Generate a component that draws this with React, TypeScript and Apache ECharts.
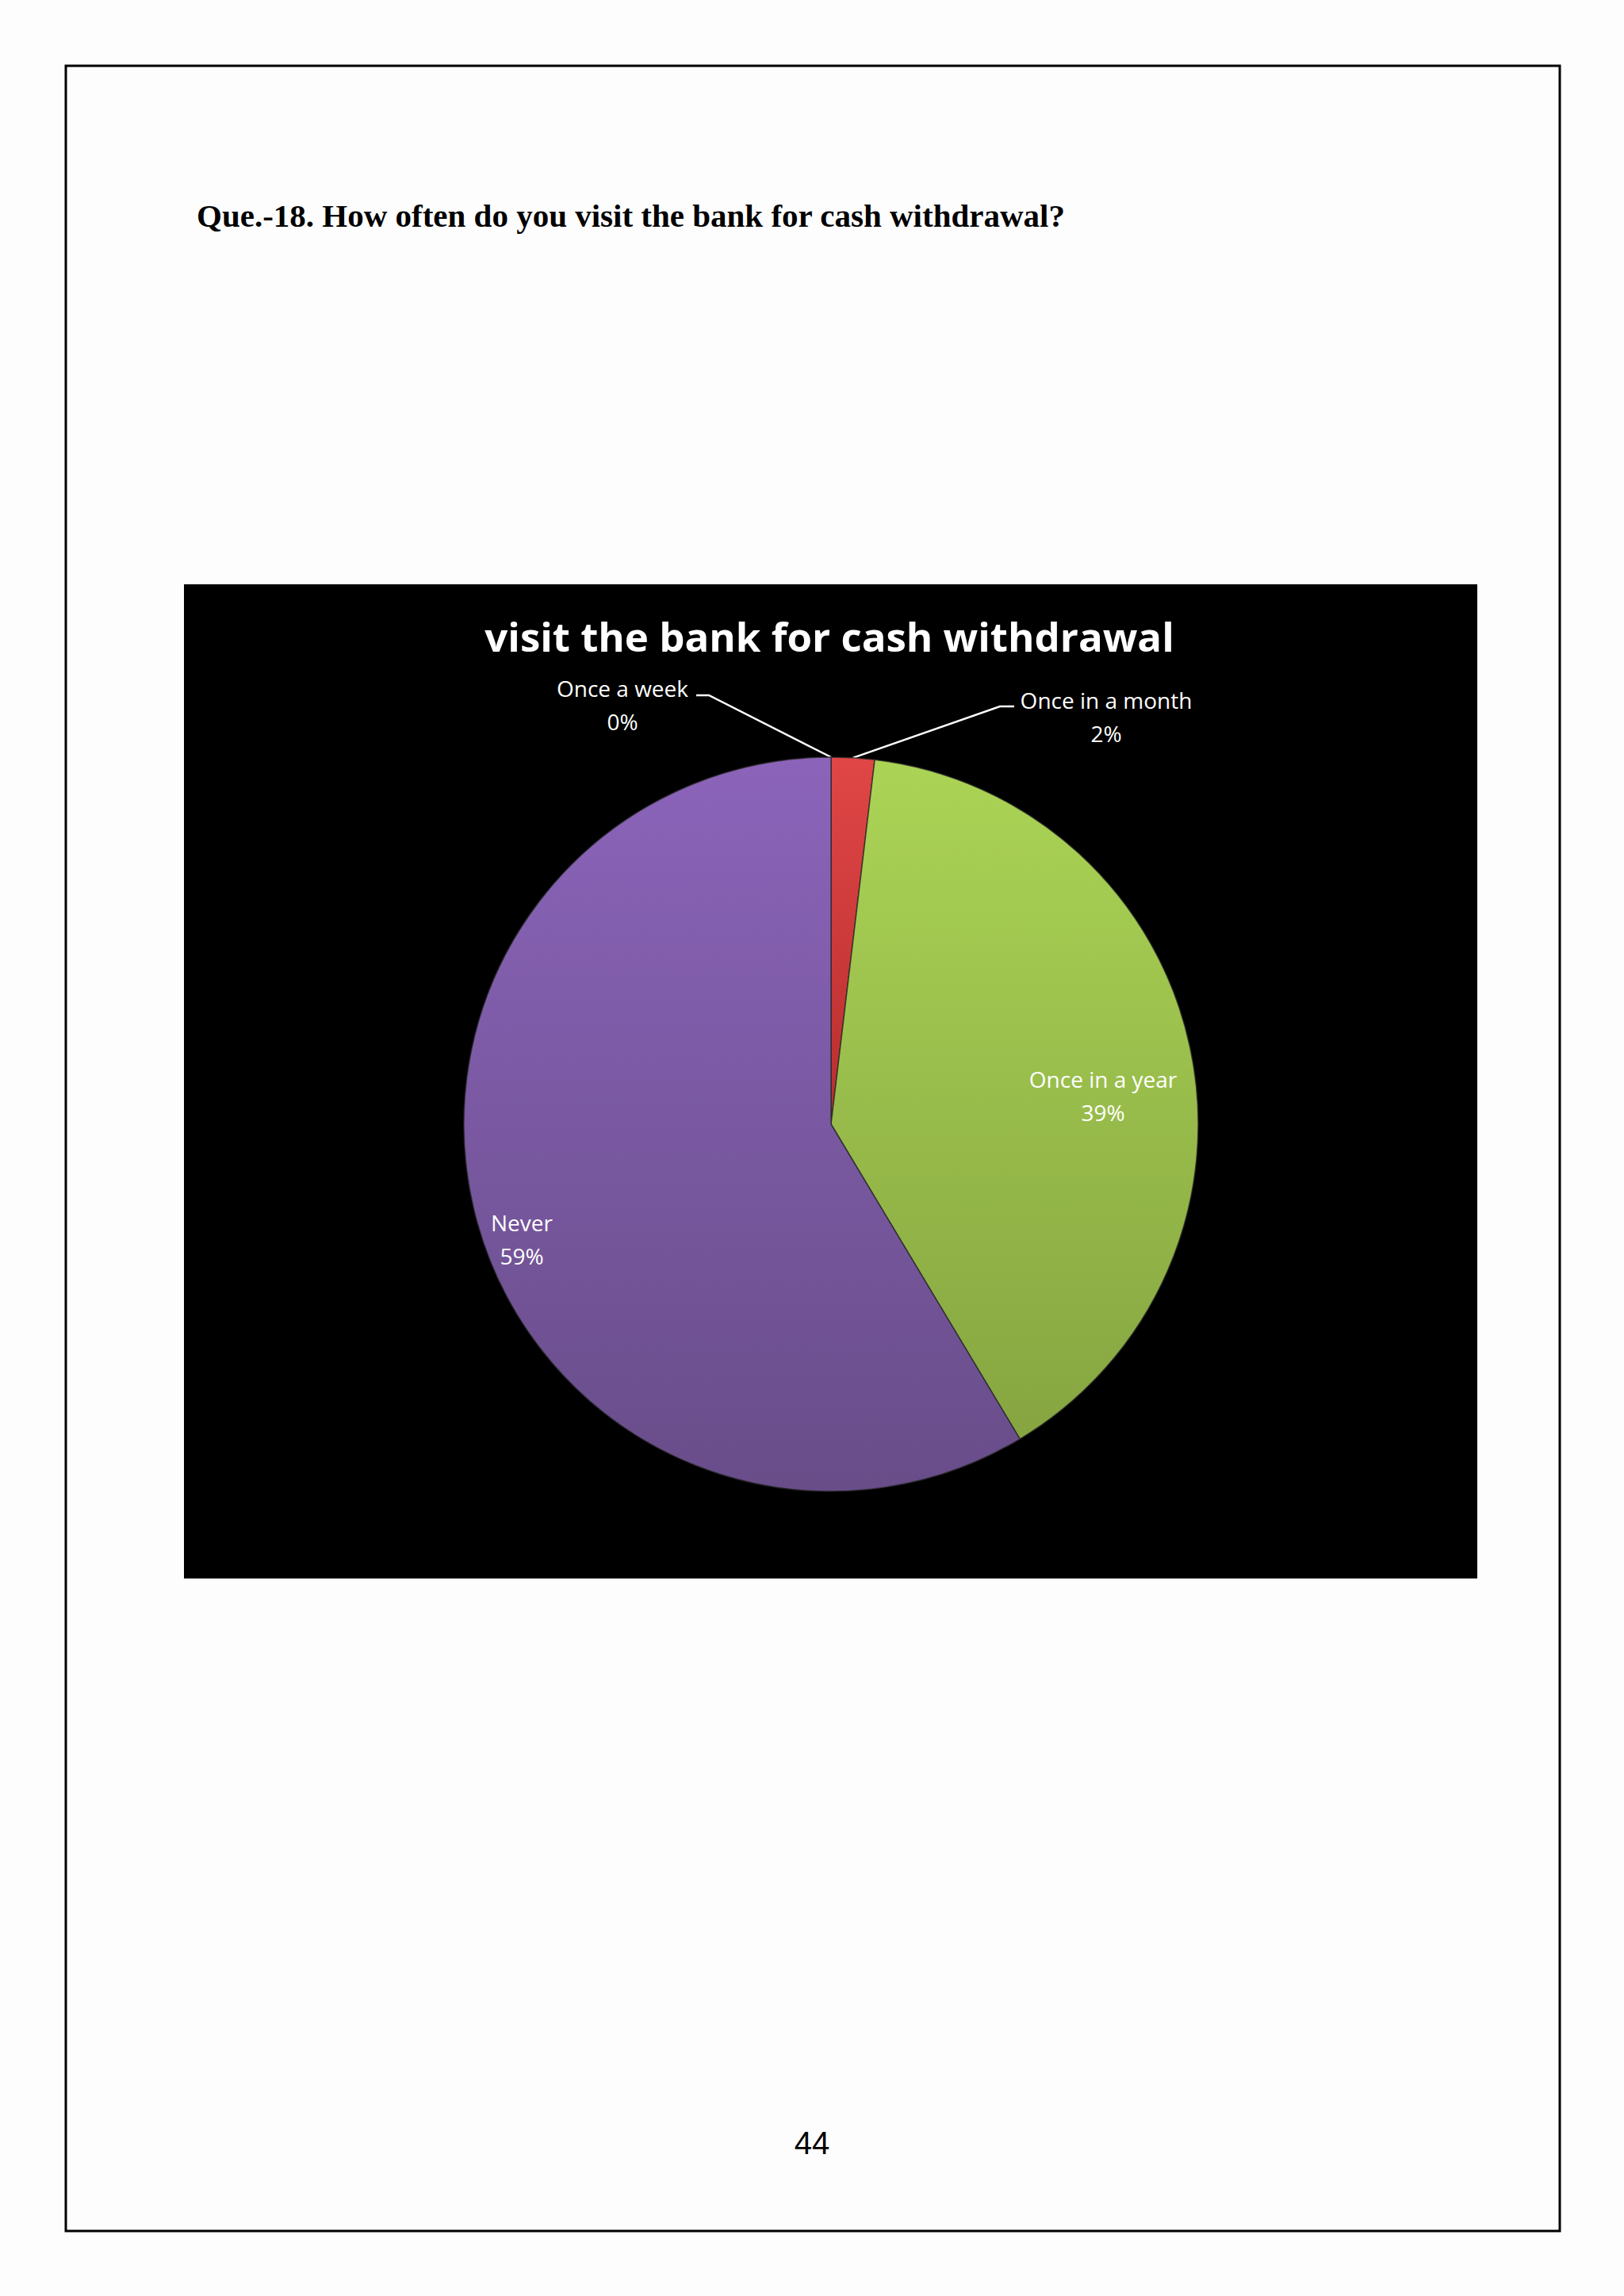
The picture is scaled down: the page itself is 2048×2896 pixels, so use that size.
import React, { useEffect, useRef } from 'react'
import * as echarts from 'echarts'

// answers to Que.-18 (share of respondents, %)
const categories = ['Once a week', 'Once in a month', 'Once in a year', 'Never']
const shares = [0, 1.9, 39.5, 58.6]

const questionText = 'Que.-18. How often do you visit the bank for cash withdrawal?'
const chartTitle = 'visit the bank for cash withdrawal'
const pageNumber = '44'

// colours per slice: [top, bottom]
const sliceColors = [
    ['#8c66bb', '#6b4f8d'],
    ['#e04646', '#b82e2e'],
    ['#abd455', '#86a541'],
    ['#8b64ba', '#684d89'],
]

// where each label sits on the page, and the leader line bends (if any)
const labelSpots: { x: number; y: number; line?: number[][] }[] = [
    { x: 785, y: 889, line: [[894, 877], [878, 877]] },
    { x: 1395, y: 904, line: [[1261, 891], [1279, 891]] },
    { x: 1391, y: 1382 },
    { x: 658, y: 1563 },
]

const App: React.FC = () => {
    const chartRef = useRef<HTMLDivElement | null>(null)

    useEffect(() => {
        if (!chartRef.current) return
        const chart = echarts.init(chartRef.current, null, { renderer: 'svg' })

        const option: any = {
            animation: false,
            backgroundColor: '#fdfdfd',
            graphic: [
                // page frame
                {
                    type: 'rect',
                    z: 0,
                    shape: { x: 83, y: 83, width: 1884, height: 2731 },
                    style: { fill: 'none', stroke: '#000', lineWidth: 3 },
                },
                {
                    type: 'text',
                    z: 1,
                    x: 248,
                    y: 272,
                    style: {
                        text: questionText,
                        font: 'bold 41px "Liberation Serif", "Times New Roman", serif',
                        fill: '#000',
                        verticalAlign: 'middle',
                    },
                },
                // chart area
                {
                    type: 'rect',
                    z: 0,
                    shape: { x: 232, y: 737, width: 1631, height: 1254 },
                    style: { fill: '#000' },
                },
                {
                    type: 'text',
                    z: 1,
                    x: 1046,
                    y: 802,
                    style: {
                        text: chartTitle,
                        font: 'bold 51px "Open Sans", sans-serif',
                        fill: '#fff',
                        align: 'center',
                        verticalAlign: 'middle',
                    },
                },
                {
                    type: 'text',
                    z: 1,
                    x: 1024,
                    y: 2703,
                    style: {
                        text: pageNumber,
                        font: '40px "Liberation Sans", sans-serif',
                        fill: '#000',
                        align: 'center',
                        verticalAlign: 'middle',
                    },
                },
            ],
            series: [
                {
                    type: 'pie',
                    z: 2,
                    center: [1048, 1418],
                    radius: 463,
                    startAngle: 90,
                    clockwise: true,
                    percentPrecision: 0,
                    avoidLabelOverlap: false,
                    itemStyle: {
                        borderColor: 'rgba(40,40,40,0.8)',
                        borderWidth: 1.5,
                    },
                    label: {
                        show: true,
                        position: 'outside',
                        formatter: '{b}\n{d}%',
                        color: '#fff',
                        fontFamily: '"Open Sans", sans-serif',
                        fontSize: 28,
                        lineHeight: 42,
                        align: 'center',
                    },
                    labelLine: {
                        show: true,
                        lineStyle: { color: '#fff', width: 2.5 },
                    },
                    labelLayout: (params: any) => {
                        const spot = labelSpots[params.dataIndex]
                        const res: any = {
                            x: spot.x,
                            y: spot.y,
                            align: 'center',
                            verticalAlign: 'middle',
                        }
                        if (spot.line && params.labelLinePoints) {
                            res.labelLinePoints = [params.labelLinePoints[0], ...spot.line]
                        }
                        return res
                    },
                    data: categories.map((name, i) => ({
                        name,
                        value: shares[i],
                        labelLine: { show: !!labelSpots[i].line },
                        itemStyle: {
                            color: new echarts.graphic.LinearGradient(0, 0, 0, 1, [
                                { offset: 0, color: sliceColors[i][0] },
                                { offset: 1, color: sliceColors[i][1] },
                            ]),
                        },
                    })),
                },
            ],
        }

        chart.setOption(option)

        return () => {
            chart.dispose()
        }
    }, [])

    return (
        <div
            ref={chartRef}
            style={{ position: 'absolute', left: 0, top: 0, width: 2048, height: 2896 }}
        />
    )
}

export default App
